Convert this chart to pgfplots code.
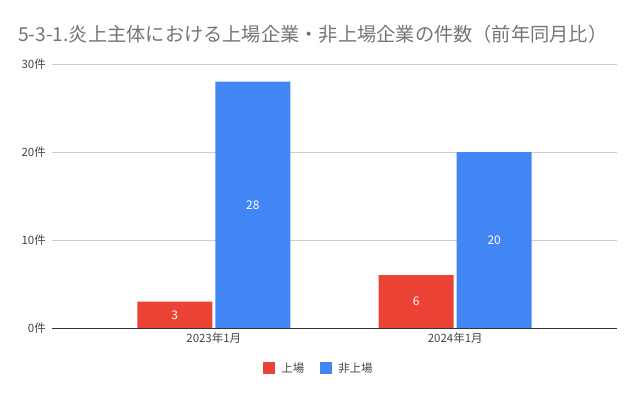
\documentclass[border=0pt]{standalone}
\usepackage{pgfplots}
\pgfplotsset{compat=1.18}
\usepackage{fontspec}
\setmainfont{Noto Sans CJK JP}
\definecolor{cred}{HTML}{EA4335}
\definecolor{cblue}{HTML}{4285F4}
\definecolor{titlegray}{HTML}{757575}
\definecolor{ticktext}{HTML}{444444}
\definecolor{gridc}{HTML}{CCCCCC}
\definecolor{axisc}{HTML}{333333}
\begin{document}
\begin{tikzpicture}
\path[use as bounding box] (0,0) rectangle (638bp,395bp);
\node[anchor=base west, text=titlegray, font=\fontsize{19.3}{19.3}\selectfont, inner sep=0pt] at (18bp,353bp) {5-3-1.炎上主体における上場企業・非上場企業の件数（前年同月比）};
\begin{axis}[
  at={(52bp,67bp)}, anchor=south west,
  scale only axis, width=565bp, height=264bp,
  ybar=3bp, bar width=75bp,
  xmin=-0.67, xmax=1.67, ymin=0, ymax=30,
  xtick=data, xticklabels={2023年1月,2024年1月},
  ytick={0,10,20,30},
  /pgf/number format/assume math mode=true,
  yticklabel={\pgfmathprintnumber{\tick}件},
  ticklabel style={font=\fontsize{11.5}{11.5}\selectfont, text=ticktext},
  yticklabel style={inner sep=0pt, xshift=-6bp},
  xticklabel style={yshift=-1bp},
  major tick length=0pt,
  ymajorgrids, grid style={draw=gridc, line width=0.7bp},
  axis x line*=bottom, axis y line*=left,
  x axis line style={draw=axisc, line width=0.9bp, -},
  y axis line style={draw=none},
  nodes near coords,
  visualization depends on={y \as \rawy},
  every node near coord/.append style={anchor=center, text=white, font=\fontsize{12}{12}\selectfont, shift={(axis direction cs:0,-\rawy/2)}},
  legend style={at={(0.4726,-0.1515)}, anchor=center, draw=none, legend columns=2, font=\fontsize{11.5}{11.5}\selectfont, text=ticktext,
    /tikz/every odd column/.append style={column sep=4bp},
    /tikz/every even column/.append style={column sep=14bp}},
  legend image code/.code={\fill[#1] (0bp,-6bp) rectangle (12bp,6bp);},
]
\addplot[fill=cred, draw=none] coordinates {(0,3) (1,6)};
\addplot[fill=cblue, draw=none] coordinates {(0,28) (1,20)};
\legend{上場,非上場}
\end{axis}
\end{tikzpicture}
\end{document}
